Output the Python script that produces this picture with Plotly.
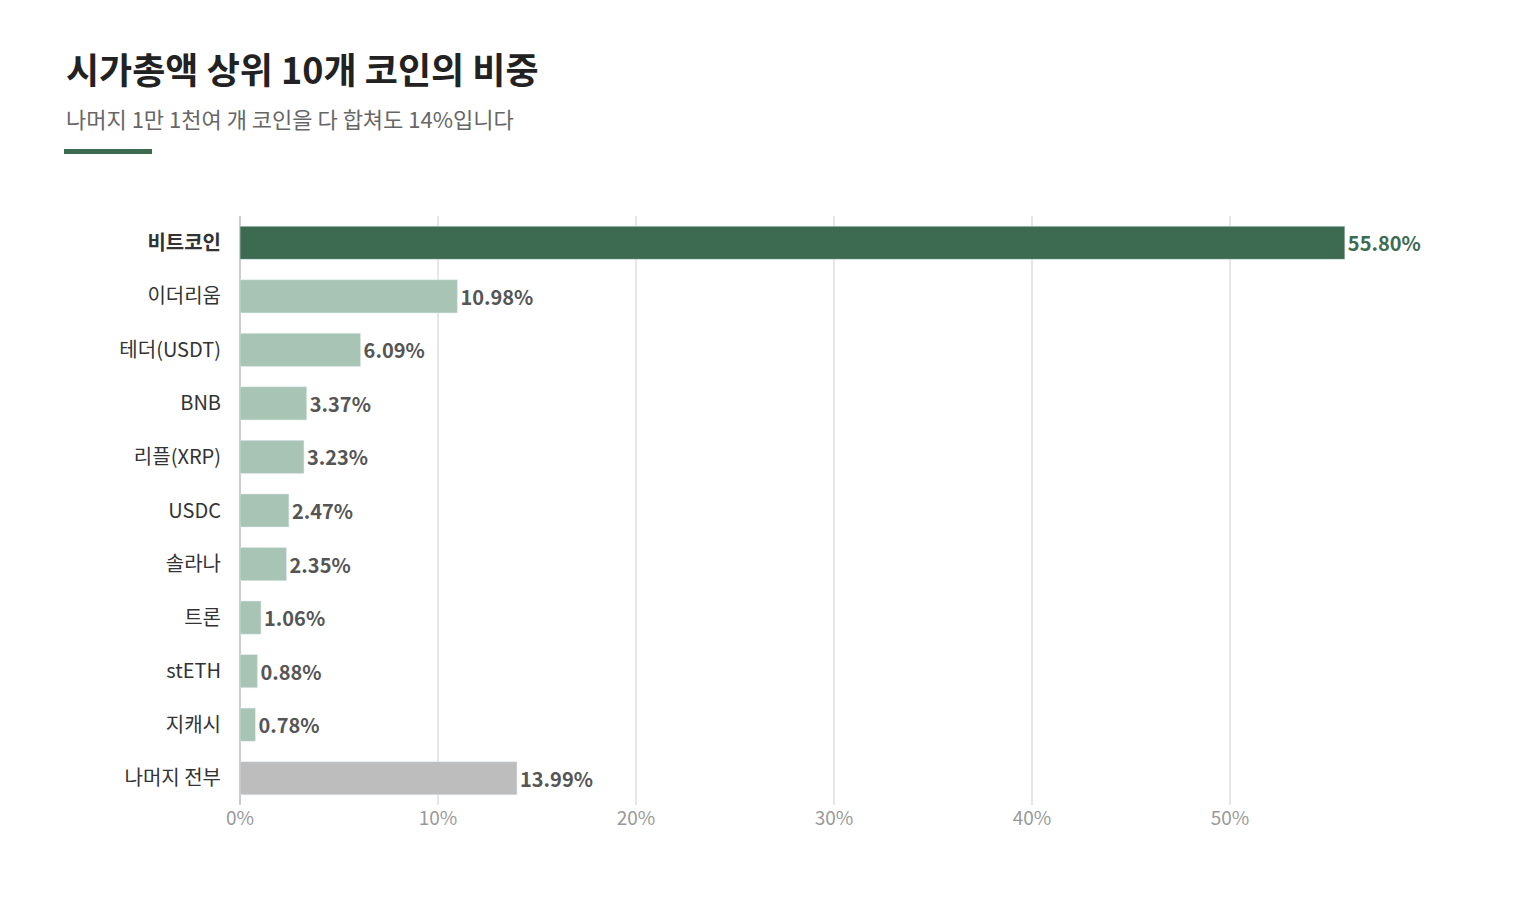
import plotly.graph_objects as go

coins = ["비트코인", "이더리움", "테더(USDT)", "BNB", "리플(XRP)", "USDC", "솔라나", "트론", "stETH", "지캐시", "나머지 전부"]
shares = [55.80, 10.98, 6.09, 3.37, 3.23, 2.47, 2.35, 1.06, 0.88, 0.78, 13.99]
tick_vals = [0, 10, 20, 30, 40, 50]
tick_text = ["0%", "10%", "20%", "30%", "40%", "50%"]

F = "Noto Sans CJK KR"
colors = ["#3d6b52"] + ["#a8c4b4"] * 9 + ["#bdbdbd"]
tcolors = ["#3d6b52"] + ["#555555"] * 10
ylabels = ["<b>" + coins[0] + "</b>"] + coins[1:]

fig = go.Figure(go.Bar(
    x=shares, y=ylabels, orientation="h", marker_color=colors, width=0.62,
    text=[f"<b>{v:.2f}%</b>" for v in shares], textposition="outside",
    textfont=dict(family=F, size=20, color=tcolors), cliponaxis=False,
    hoverinfo="skip"))

fig.update_layout(
    width=1520, height=900, plot_bgcolor="white", paper_bgcolor="white",
    margin=dict(l=232, r=100, t=208, b=103), showlegend=False,
    font=dict(family=F),
    xaxis=dict(range=[0, 60], tickvals=tick_vals, ticktext=tick_text, showgrid=True,
               gridcolor="#e6e6e6", gridwidth=1.5, zeroline=True, zerolinecolor="#cccccc",
               zerolinewidth=1.5, tickfont=dict(family=F, size=19, color="#999999"),
               ticks="", fixedrange=True),
    yaxis=dict(autorange="reversed", tickfont=dict(family=F, size=20, color="#333333"),
               ticks="", ticklabelstandoff=18, showline=False),
    annotations=[
        dict(text="<b>시가총액 상위 10개 코인의 비중</b>", x=56, y=60, xref="paper", yref="paper",
             showarrow=False, xanchor="left", yanchor="middle", font=dict(family=F, size=36, color="#222222")),
        dict(text="나머지 1만 1천여 개 코인을 다 합쳐도 14%입니다", x=56, y=110, xref="paper", yref="paper",
             showarrow=False, xanchor="left", yanchor="middle", font=dict(family=F, size=22, color="#666666")),
    ],
    shapes=[dict(type="rect", xref="paper", yref="paper", x0=56, x1=144, y0=141, y1=146,
                 fillcolor="#3d6b52", line_width=0)],
)
# convert pixel coords for annotations/shapes
W, H = 1520, 900
pw, ph = W - 232 - 100, H - 208 - 103
for a in fig.layout.annotations:
    a.x = (a.x - 232) / pw
    a.y = 1 - (a.y - 208) / ph
for s in fig.layout.shapes:
    s.x0 = (s.x0 - 232) / pw; s.x1 = (s.x1 - 232) / pw
    y0, y1 = s.y0, s.y1
    s.y0 = 1 - (y1 - 208) / ph; s.y1 = 1 - (y0 - 208) / ph
fig.write_html("out.html")
